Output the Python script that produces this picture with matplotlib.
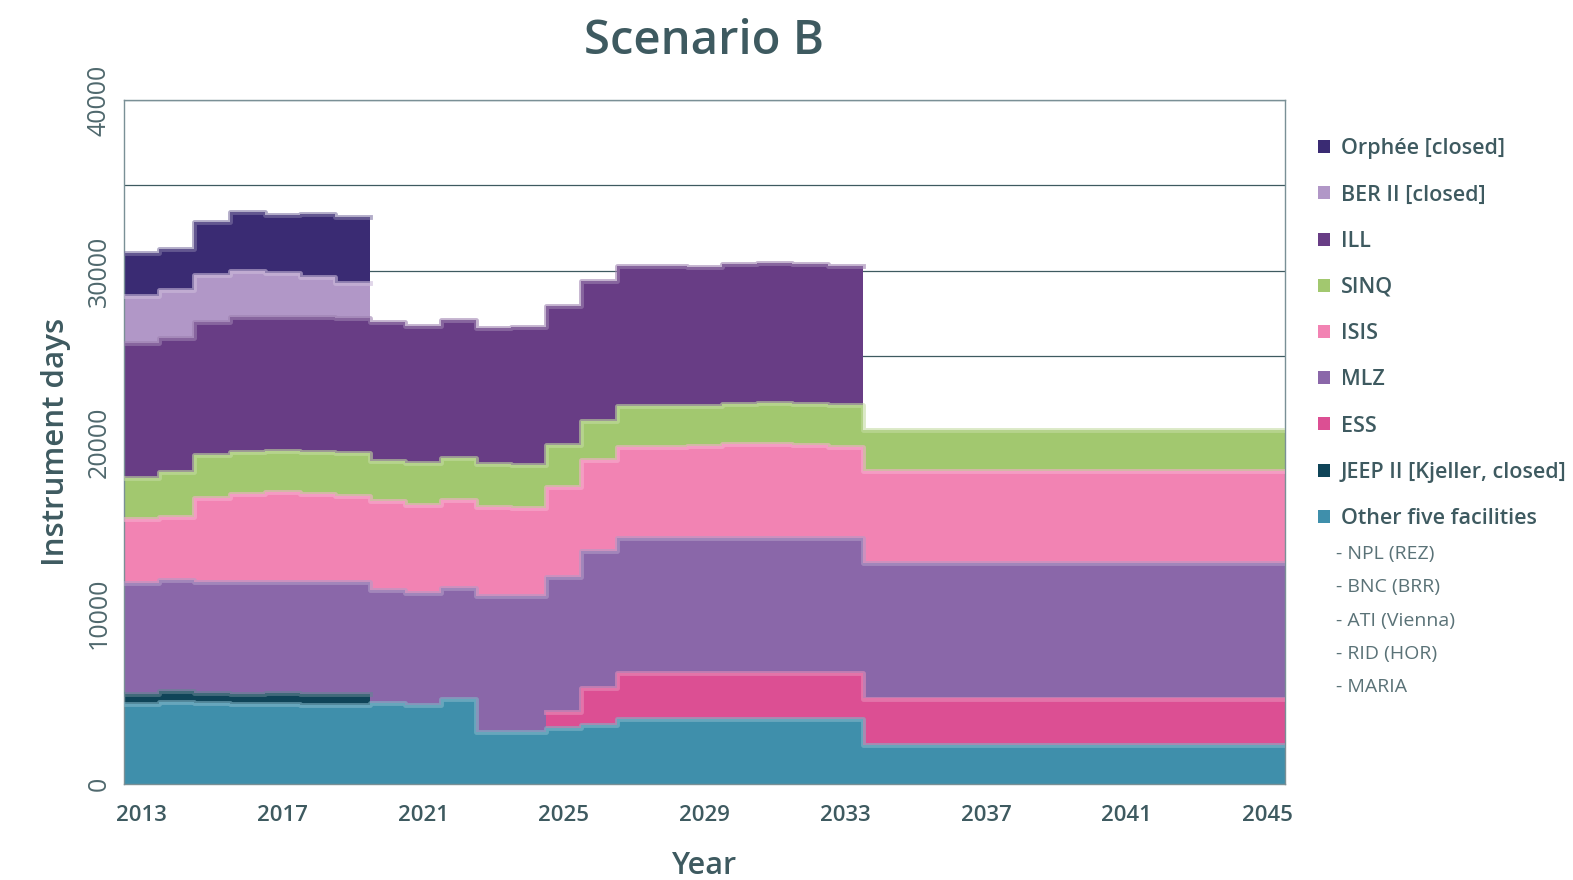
import matplotlib
matplotlib.use("Agg")
import matplotlib.pyplot as plt
import numpy as np
from matplotlib.colors import to_rgb
from matplotlib.patches import Patch
from matplotlib.ticker import MultipleLocator


years = list(range(2013, 2046))
tick_years = [2013, 2017, 2021, 2025, 2029, 2033, 2037, 2041, 2045]

# instrument days per facility, bottom of the stack first
other_five = [4700, 4800, 4750, 4680, 4700, 4620, 4620, 4750, 4620, 4950, 3060,
              3060, 3250, 3450, 3780, 3780, 3780, 3780, 3780, 3780, 3780, 2300,
              2300, 2300, 2300, 2300, 2300, 2300, 2300, 2300, 2300, 2300, 2300]
jeep_ii = [550, 620, 580, 600, 600, 620, 620, 0, 0, 0, 0,
           0, 0, 0, 0, 0, 0, 0, 0, 0, 0, 0,
           0, 0, 0, 0, 0, 0, 0, 0, 0, 0, 0]
ess = [0, 0, 0, 0, 0, 0, 0, 0, 0, 0, 0,
       0, 980, 2170, 2730, 2730, 2730, 2730, 2730, 2730, 2730, 2700,
       2700, 2700, 2700, 2700, 2700, 2700, 2700, 2700, 2700, 2700, 2700]
mlz = [6490, 6510, 6500, 6550, 6530, 6590, 6590, 6600, 6530, 6490, 7930,
       7930, 7900, 8000, 7890, 7890, 7890, 7890, 7890, 7890, 7890, 7950,
       7950, 7950, 7950, 7950, 7950, 7950, 7950, 7950, 7950, 7950, 7950]
isis = [3740, 3700, 4920, 5150, 5260, 5150, 5040, 5210, 5170, 5180, 5220,
        5130, 5240, 5310, 5300, 5290, 5370, 5480, 5480, 5420, 5290, 5330,
        5330, 5330, 5330, 5330, 5330, 5330, 5330, 5330, 5330, 5330, 5330]
sinq = [2400, 2630, 2490, 2450, 2400, 2450, 2470, 2340, 2440, 2420, 2530,
        2530, 2450, 2320, 2430, 2420, 2340, 2340, 2420, 2400, 2480, 2420,
        2420, 2420, 2420, 2420, 2420, 2420, 2420, 2420, 2420, 2420, 2420]
ill = [7890, 7800, 7800, 7900, 7840, 7900, 7890, 8090, 8030, 8090, 7950,
       8050, 8130, 8190, 8140, 8190, 8150, 8190, 8190, 8190, 8130, 0,
       0, 0, 0, 0, 0, 0, 0, 0, 0, 0, 0]
ber_ii = [2770, 2830, 2730, 2670, 2530, 2300, 2090, 0, 0, 0, 0,
          0, 0, 0, 0, 0, 0, 0, 0, 0, 0, 0,
          0, 0, 0, 0, 0, 0, 0, 0, 0, 0, 0]
orphee = [2510, 2370, 3120, 3470, 3410, 3700, 3860, 0, 0, 0, 0,
          0, 0, 0, 0, 0, 0, 0, 0, 0, 0, 0,
          0, 0, 0, 0, 0, 0, 0, 0, 0, 0, 0]

series = [
    ("Other five facilities", other_five, "#3f8fab"),
    ("JEEP II [Kjeller, closed]", jeep_ii, "#0f4458"),
    ("ESS", ess, "#dc4f93"),
    ("MLZ", mlz, "#8a67a9"),
    ("ISIS", isis, "#f283b3"),
    ("SINQ", sinq, "#a2c86f"),
    ("ILL", ill, "#683d85"),
    ("BER II [closed]", ber_ii, "#b197c7"),
    ("Orphée [closed]", orphee, "#3a2b73"),
]
sub_facilities = ["- NPL (REZ)", "- BNC (BRR)", "- ATI (Vienna)", "- RID (HOR)", "- MARIA"]

TEXT = "#3e5a60"
plt.rcParams["font.family"] = ["Open Sans", "DejaVu Sans"]


def lighten(color, amount):
    r, g, b = to_rgb(color)
    return (r + (1 - r) * amount, g + (1 - g) * amount, b + (1 - b) * amount)


fig = plt.figure(figsize=(15.73, 8.8), dpi=100)
ax = fig.add_axes([124 / 1573, 96 / 880, 1161 / 1573, 684 / 880])

n = len(years)
edges = np.arange(n + 1) - 0.5
base = np.zeros(n)
for name, values, color in series:
    vals = np.array(values, dtype=float)
    top = base + vals
    ax.fill_between(edges, np.append(base, base[-1]), np.append(top, top[-1]),
                    step="post", color=color, linewidth=0, zorder=2)
    # soft light rim on the top edge of each band
    rim = np.where(vals > 0, top, np.nan)
    ax.step(edges, np.append(rim, rim[-1]), where="post",
            color=lighten(color, 0.35), linewidth=3.5, alpha=0.6, zorder=3)
    base = top

ax.set_xlim(-0.5, n - 0.5)
ax.set_ylim(0, 40000)
ax.set_xticks([years.index(y) for y in tick_years])
ax.set_xticklabels([str(y) for y in tick_years])
ax.yaxis.set_major_locator(MultipleLocator(10000))
ax.yaxis.set_minor_locator(MultipleLocator(5000))
ax.grid(axis="y", which="both", color="#3e5a60", linewidth=0.9)
ax.set_axisbelow(True)
ax.tick_params(axis="both", which="both", length=0)
ax.tick_params(axis="x", labelsize=16, labelcolor=TEXT, pad=15)
ax.tick_params(axis="y", labelsize=18, labelcolor="#4f686d", pad=9)
for label in ax.get_yticklabels():
    label.set_rotation(90)
    label.set_va("center")
for label in ax.get_xticklabels():
    label.set_fontweight("semibold")

for side in ["left", "top", "right", "bottom"]:
    ax.spines[side].set_color("#7a9096")
    ax.spines[side].set_linewidth(1)

ax.set_xlabel("Year", fontsize=22, color=TEXT, fontweight="semibold", labelpad=18)
ax.set_ylabel("Instrument days", fontsize=22.5, color=TEXT, fontweight="semibold", labelpad=11)
fig.text(704 / 1573, 1 - 42 / 880, "Scenario B", ha="center", va="center",
         fontsize=34, color=TEXT, fontweight="semibold")

handles = [Patch(facecolor=c, edgecolor="none") for _, _, c in reversed(series)]
labels = [name for name, _, _ in reversed(series)]
fig.legend(handles, labels, loc="upper left", bbox_to_anchor=(1299 / 1573, 1 - 119 / 880),
           frameon=False, labelcolor=TEXT, handlelength=0.55,
           handleheight=0.55, handletextpad=0.5, labelspacing=1.17,
           prop={"weight": "semibold", "size": 15.5})

for i, sub in enumerate(sub_facilities):
    fig.text(1336 / 1573, 1 - (554 + 33.3 * i) / 880, sub, ha="left", va="center",
             fontsize=14, color="#5a7277")

fig.savefig("out.png", dpi=100)
